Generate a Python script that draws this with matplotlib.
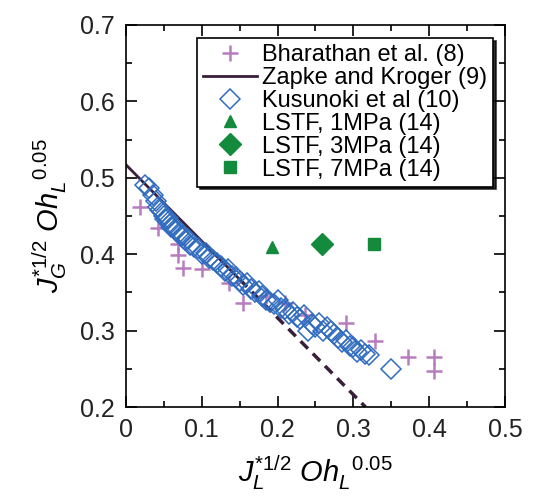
import numpy as np
import matplotlib
matplotlib.use("Agg")
import matplotlib.pyplot as plt
from matplotlib.ticker import MultipleLocator

plt.rcParams['font.family'] = ['Liberation Sans', 'DejaVu Sans']
plt.rcParams['mathtext.fontset'] = 'custom'
plt.rcParams['mathtext.rm'] = 'Liberation Sans'
plt.rcParams['mathtext.it'] = 'Liberation Sans:italic'

# Bharathan et al. (8)
bh_x = [0.018, 0.042, 0.068, 0.068, 0.075, 0.100, 0.136, 0.155, 0.185, 0.210,
        0.236, 0.290, 0.328, 0.372, 0.407, 0.407]
bh_y = [0.462, 0.434, 0.414, 0.399, 0.382, 0.380, 0.362, 0.336, 0.345, 0.336,
        0.320, 0.310, 0.287, 0.265, 0.265, 0.247]

# Zapke and Kroger (9)
zk_solid_x = [0.0, 0.15]
zk_solid_y = [0.517, 0.367]
zk_dash_x = [0.15, 0.316]
zk_dash_y = [0.367, 0.200]

# Kusunoki et al (10)
ku_x = [0.025, 0.030, 0.035, 0.040, 0.042, 0.045, 0.048, 0.050, 0.052, 0.055,
        0.058, 0.060, 0.063, 0.066, 0.070, 0.072, 0.075, 0.078, 0.082, 0.085,
        0.090, 0.095, 0.100, 0.105, 0.110, 0.115, 0.120, 0.125, 0.130, 0.135,
        0.140, 0.145, 0.150, 0.155, 0.160, 0.165, 0.170, 0.175, 0.180, 0.185,
        0.190, 0.195, 0.200, 0.205, 0.210, 0.215, 0.220, 0.225, 0.230, 0.235,
        0.240, 0.245, 0.250, 0.255, 0.260, 0.265, 0.270, 0.275, 0.280, 0.285,
        0.290, 0.295, 0.300, 0.305, 0.310, 0.315, 0.320, 0.350]
ku_y = [0.490, 0.487, 0.478, 0.470, 0.462, 0.458, 0.455, 0.450, 0.446, 0.447,
        0.440, 0.436, 0.437, 0.430, 0.428, 0.424, 0.425, 0.418, 0.420, 0.412,
        0.410, 0.408, 0.400, 0.402, 0.395, 0.392, 0.388, 0.385, 0.378, 0.380,
        0.372, 0.370, 0.365, 0.360, 0.362, 0.355, 0.350, 0.352, 0.345, 0.340,
        0.338, 0.335, 0.340, 0.330, 0.328, 0.322, 0.325, 0.318, 0.315, 0.320,
        0.300, 0.308, 0.305, 0.310, 0.300, 0.305, 0.300, 0.295, 0.290, 0.285,
        0.288, 0.280, 0.278, 0.272, 0.275, 0.270, 0.268, 0.250]

# LSTF (14)
lstf_labels = ["LSTF, 1MPa (14)", "LSTF, 3MPa (14)", "LSTF, 7MPa (14)"]
lstf_x = [0.192, 0.259, 0.327]
lstf_y = [0.410, 0.413, 0.413]
lstf_markers = ['^', 'D', 's']

fig = plt.figure(figsize=(5.33, 5.01), dpi=100)
ax = fig.add_axes([0.2364, 0.1876, 0.711, 0.7625])

purple = '#B77DBE'
blue = '#2F6CC0'
green = '#138A3C'
dark = '#3A1E3A'

ax.plot(bh_x, bh_y, '+', color=purple, ms=12, mew=1.8, label="Bharathan et al. (8)", zorder=3)
ax.plot(zk_solid_x, zk_solid_y, '-', color=dark, lw=2, label="Zapke and Kroger (9)", zorder=2)
ax.plot(zk_dash_x, zk_dash_y, '--', color=dark, lw=2.5, dashes=(3, 2), zorder=2)
ax.plot(ku_x, ku_y, 'D', mfc='none', mec=blue, ms=10, mew=1.1, label="Kusunoki et al (10)", zorder=4)
for lab, x, y, m in zip(lstf_labels, lstf_x, lstf_y, lstf_markers):
    ms = 11 if m == 'D' else 9
    ax.plot(x, y, m, color=green, ms=ms, label=lab, zorder=4)

ax.set_xlim(0, 0.5)
ax.set_ylim(0.2, 0.7)
ax.xaxis.set_minor_locator(MultipleLocator(0.05))
ax.yaxis.set_major_locator(MultipleLocator(0.1))
ax.yaxis.set_minor_locator(MultipleLocator(0.05))
ax.set_xticks([0, 0.1, 0.2, 0.3, 0.4, 0.5])
ax.set_xticklabels(['0', '0.1', '0.2', '0.3', '0.4', '0.5'])
ax.tick_params(which='both', direction='in', top=True, right=True, labelsize=18,
               width=1.2, labelcolor='#222222')
ax.tick_params(which='major', length=8, pad=8)
ax.tick_params(which='minor', length=4)
for s in ax.spines.values():
    s.set_linewidth(1.2)

ax.set_xlabel(r'$J_L^{*1/2}\ Oh_L^{\ \ 0.05}$', fontsize=21, labelpad=8)
ax.set_ylabel(r'$J_G^{*1/2}\ Oh_L^{\ \ 0.05}$', fontsize=21, labelpad=8)

leg = ax.legend(loc='upper right', bbox_to_anchor=(0.968, 0.966), borderaxespad=0,
                fontsize=17, labelspacing=0.04, handlelength=2.3, handletextpad=0.2,
                borderpad=0.25, fancybox=False, edgecolor='black', framealpha=1,
                shadow={'color': 'black', 'alpha': 0.8}, numpoints=1)
leg.get_frame().set_linewidth(1.2)

fig.savefig("out.png", dpi=100)
